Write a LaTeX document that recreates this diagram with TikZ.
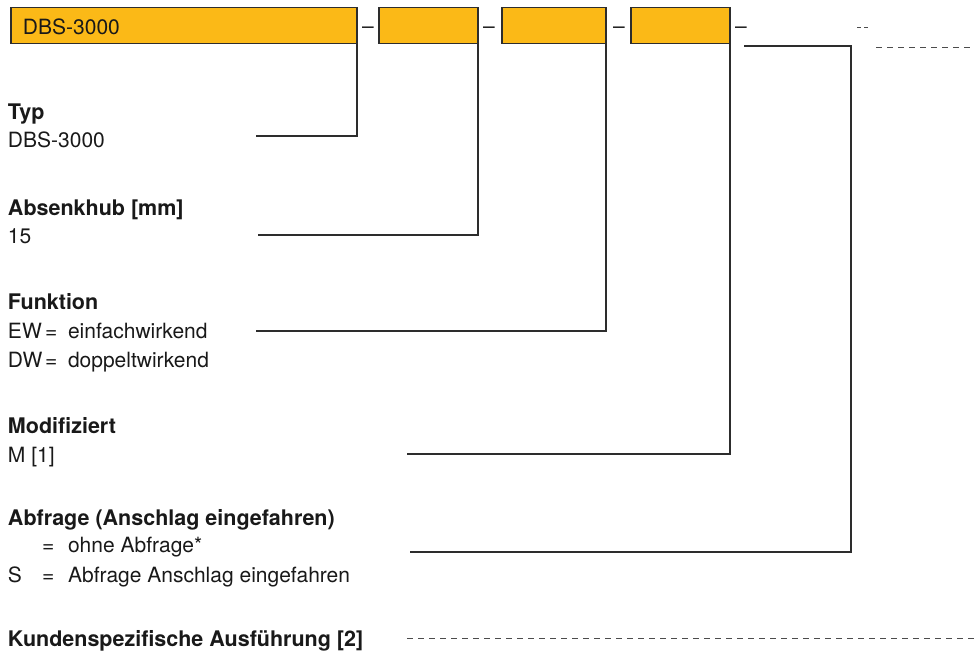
\documentclass[tikz,border=0pt]{standalone}
\usepackage{fontspec}
\setmainfont{TeX Gyre Heros}
\definecolor{boxfill}{RGB}{251,185,23}
\definecolor{edge}{RGB}{45,45,45}
\definecolor{ink}{RGB}{25,25,25}
\begin{document}
\begin{tikzpicture}[x=1pt,y=-1pt,
  every node/.style={inner sep=0pt, outer sep=0pt, text=ink, font=\fontsize{21}{25}\selectfont},
  codebox/.style={draw=edge, line width=1.2pt, fill=boxfill, minimum height=36pt, anchor=north west},
  txt/.style={anchor=base west},
  head/.style={anchor=base west, font=\fontsize{21.5}{26}\selectfont\bfseries},
  sepdash/.style={anchor=base},
  conn/.style={draw=edge, line width=1.1pt},
  dashline/.style={draw=edge!85, line width=1pt, dash pattern=on 6pt off 5pt}]
\useasboundingbox (0,0) rectangle (974,657);

% code boxes
\node[codebox, minimum width=346pt] (b1) at (11,7.5) {};
\node[txt] (b1t) at (23,34) {DBS-3000};
\node[codebox, minimum width=99pt] (b2) at (379,7.5) {};
\node[codebox, minimum width=104pt] (b3) at (502,7.5) {};
\node[codebox, minimum width=99pt] (b4) at (631,7.5) {};

% separators
\node[sepdash] (s1) at (368,33) {–};
\node[sepdash] (s2) at (489,33) {–};
\node[sepdash] (s3) at (619,33) {–};
\node[sepdash] (s4) at (741,33) {–};
\coordinate (s5a) at (857,27);
\coordinate (s5b) at (868,27);
\draw[draw=edge!85, line width=1pt, dash pattern=on 4pt off 3pt] (s5a) -- (s5b);

% labels
\node[head] (h1) at (8,119) {Typ};
\node[txt] (v1) at (8,147) {DBS-3000};
\node[head] (h2) at (8,215) {Absenkhub [mm]};
\node[txt] (v2) at (8,243) {15};
\node[head] (h3) at (8,309) {Funktion};
\node[txt] (v3a) at (8,338) {EW};
\node[txt] (e3a) at (45,338) {=};
\node[txt] (w3a) at (68,338) {einfachwirkend};
\node[txt] (v3b) at (8,367) {DW};
\node[txt] (e3b) at (45,367) {=};
\node[txt] (w3b) at (68,367) {doppeltwirkend};
\node[head] (h4) at (8,433) {Modifiziert};
\node[txt] (v4) at (8,462) {M [1]};
\node[head] (h5) at (8,525) {Abfrage (Anschlag eingefahren)};
\node[txt] (e5a) at (42,552) {=};
\node[txt] (w5a) at (68,552) {ohne Abfrage*};
\node[txt] (v5b) at (8,582) {S};
\node[txt] (e5b) at (42,582) {=};
\node[txt] (w5b) at (68,582) {Abfrage Anschlag eingefahren};
\node[head] (h6) at (8,646) {Kundenspezifische Ausführung [2]};

% connector ends
\coordinate (c1) at (256,136);
\coordinate (c2) at (258,235);
\coordinate (c3) at (256,331);
\coordinate (c4) at (407,454);
\coordinate (c5s) at (744,46);
\coordinate (c5k) at (851,46);
\coordinate (c5) at (410,552);
\coordinate (d1a) at (876,47);
\coordinate (d1b) at (974,47);
\coordinate (d2a) at (407,638);
\coordinate (d2b) at (974,638);

\draw[conn] (b1.south east) |- (c1);
\draw[conn] (b2.south east) |- (c2);
\draw[conn] (b3.south east) |- (c3);
\draw[conn] (b4.south east) |- (c4);
\draw[conn] (c5s) -- (c5k) |- (c5);
\draw[dashline] (d1a) -- (d1b);
\draw[dashline] (d2a) -- (d2b);
\end{tikzpicture}
\end{document}
